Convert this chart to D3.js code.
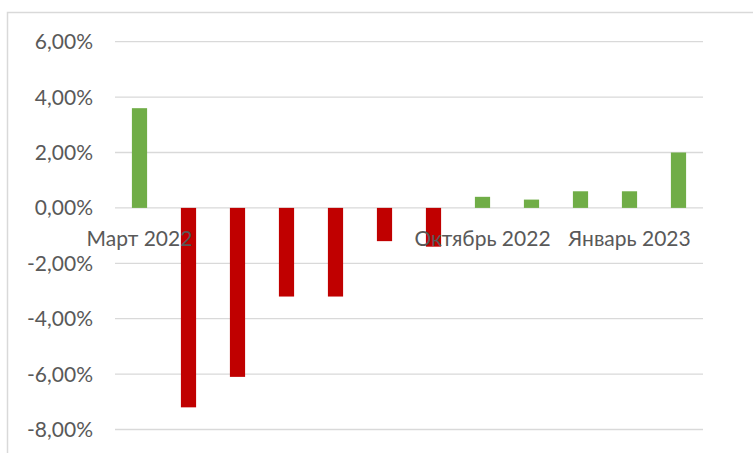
<!DOCTYPE html>
<html>
<head>
<meta charset="utf-8">
<script src="https://cdn.jsdelivr.net/npm/d3@7"></script>
<style>
  html, body { margin: 0; padding: 0; background: #fff; }
  svg { display: block; }
  text { font-family: Lato, "Open Sans", sans-serif; fill: #595959; }
</style>
</head>
<body>
<svg id="chart" width="753" height="453"></svg>
<script>
// Monthly change, %
const months = ["Март 2022", "Апрель 2022", "Май 2022", "Июнь 2022", "Июль 2022", "Август 2022",
                "Сентябрь 2022", "Октябрь 2022", "Ноябрь 2022", "Декабрь 2022", "Январь 2023", "Февраль 2023"];
const changes = [3.6, -7.2, -6.1, -3.2, -3.2, -1.2, -1.4, 0.4, 0.3, 0.6, 0.6, 2.0];
const yTicks = [6, 4, 2, 0, -2, -4, -6, -8];
const shownMonths = ["Март 2022", "Октябрь 2022", "Январь 2023"];

const svg = d3.select("#chart");
const W = 753, H = 453;

// chart frame (extends past the right and bottom edges)
svg.append("path")
  .attr("d", `M7.5,${H + 2}V12.5H${W + 2}`)
  .attr("fill", "none")
  .attr("stroke", "#d9d9d9")
  .attr("stroke-width", 1.5);

const x = d3.scaleBand().domain(months).range([115, 703]).paddingInner(0.69).paddingOuter(0.345);
const y = d3.scaleLinear().domain([-8, 6]).range([429.5, 41.7]);

const fmt = v => v.toFixed(2).replace(".", ",") + "%";

// gridlines
svg.append("g")
  .selectAll("line")
  .data(yTicks)
  .join("line")
  .attr("x1", 115).attr("x2", 703)
  .attr("y1", d => y(d)).attr("y2", d => y(d))
  .attr("stroke", "#d9d9d9")
  .attr("stroke-width", 1.3);

// y labels
svg.append("g")
  .selectAll("text")
  .data(yTicks)
  .join("text")
  .attr("x", 93)
  .attr("y", d => y(d) + 7.5)
  .attr("text-anchor", "end")
  .attr("font-size", 21)
  .text(fmt);

// bars
svg.append("g")
  .selectAll("rect")
  .data(months.map((m, i) => ({ m, v: changes[i] })))
  .join("rect")
  .attr("x", d => x(d.m))
  .attr("width", x.bandwidth())
  .attr("y", d => y(Math.max(0, d.v)))
  .attr("height", d => Math.abs(y(d.v) - y(0)))
  .attr("fill", d => d.v >= 0 ? "#70ad47" : "#c00000");

// category labels next to the zero line
svg.append("g")
  .selectAll("text")
  .data(shownMonths)
  .join("text")
  .attr("x", d => x(d) + x.bandwidth() / 2)
  .attr("y", 246)
  .attr("text-anchor", "middle")
  .attr("font-size", 21)
  .text(d => d);
</script>
</body>
</html>
